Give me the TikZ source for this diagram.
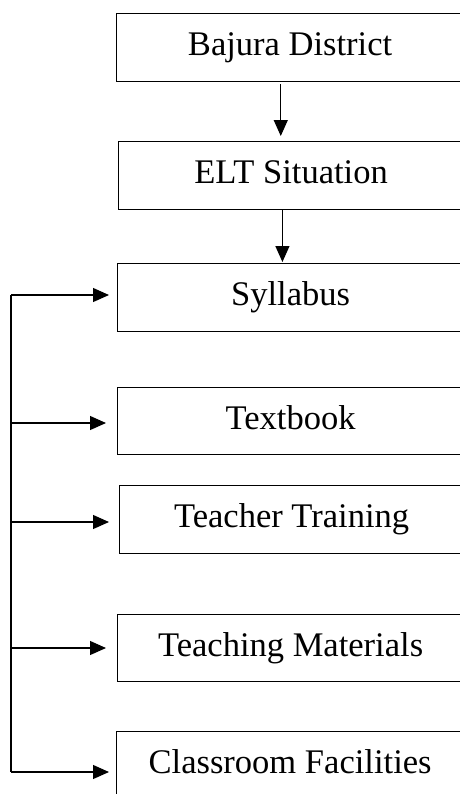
\documentclass[tikz,border=0pt]{standalone}
\usepackage{fontspec}
\setmainfont{Liberation Serif}
\usetikzlibrary{arrows.meta,calc}
\begin{document}
\begin{tikzpicture}[x=0.75pt,y=-0.75pt,
  box/.style={draw,line width=0.9pt,anchor=north west,inner sep=0pt,
    minimum height=51pt,text height=18.1pt,text depth=6.2pt,
    font=\fontsize{25.9}{30}\selectfont},
  arr/.style={line width=0.9pt,-{Triangle[length=12pt,width=10.5pt]}},
  spine/.style={line width=0.9pt}]
\useasboundingbox (0,0) rectangle (460,794);
\node[box,minimum width=260.25pt] (baj) at (116,13) {Bajura District};
\node[box,minimum width=258.75pt] (elt) at (118,141) {ELT Situation};
\node[box,minimum width=259.5pt]  (syl) at (117,263) {Syllabus};
\node[box,minimum width=259.5pt,minimum height=50.25pt] (txt) at (117,387) {Textbook};
\node[box,minimum width=258pt]    (tt)  at (119,485) {Teacher Training};
\node[box,minimum width=259.5pt,minimum height=50.25pt] (tm)  at (117,614) {Teaching Materials};
\node[box,minimum width=260.25pt] (cf)  at (116,731) {Classroom Facilities};
% vertical arrows
\draw[arr,shorten <=1.5pt,shorten >=3.75pt] ([xshift=-7pt]baj.south) -- ([xshift=-7pt]baj.south |- elt.north);
\draw[arr,shorten >=0.75pt] ([xshift=-6.5pt]elt.south) -- ([xshift=-6.5pt]elt.south |- syl.north);
% feedback spine
\coordinate (s1) at (11,295);
\coordinate (s2) at (11,423);
\coordinate (s3) at (11,522);
\coordinate (s4) at (11,648);
\coordinate (s5) at (11,772);
\draw[spine] (s1) -- (s5);
\draw[arr,shorten >=6pt] (s1) -- (syl.west |- s1);
\draw[arr,shorten >=8.25pt] (s2) -- (txt.west |- s2);
\draw[arr,shorten >=7.5pt] (s3) -- (tt.west |- s3);
\draw[arr,shorten >=8.25pt] (s4) -- (tm.west |- s4);
\draw[arr,shorten >=5.25pt] (s5) -- (cf.west |- s5);
\end{tikzpicture}
\end{document}
